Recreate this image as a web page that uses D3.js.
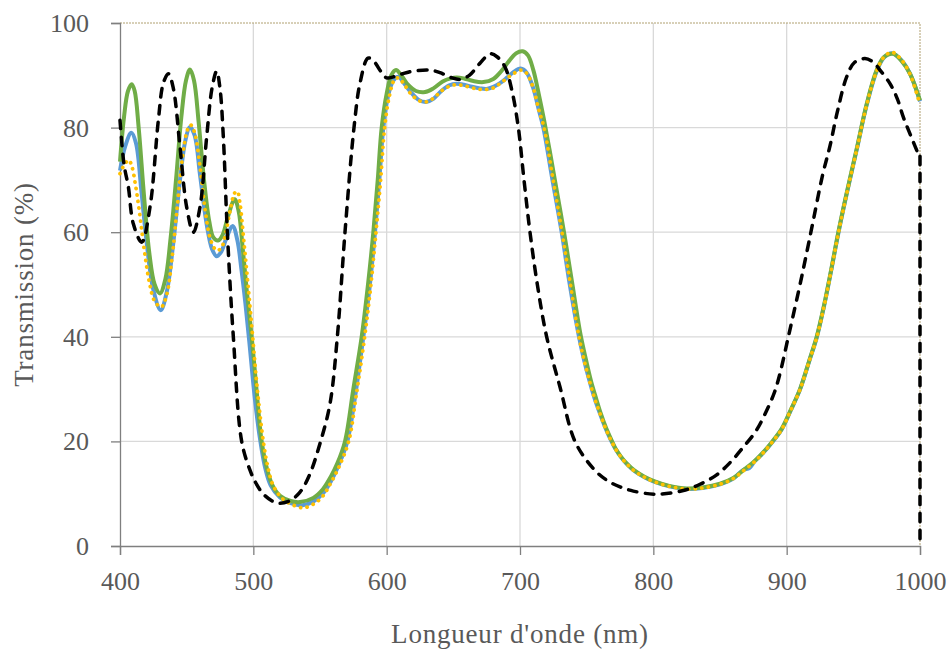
<!DOCTYPE html>
<html>
<head>
<meta charset="utf-8">
<script src="https://cdn.jsdelivr.net/npm/d3@7"></script>
<style>
  html, body { margin: 0; padding: 0; background: #ffffff; }
  svg { display: block; }
  text { font-family: "Liberation Serif", "DejaVu Serif", serif; fill: #595959; }
</style>
</head>
<body>
<svg id="chart" width="949" height="650"></svg>
<script>
// ---- Data ----
const xTicks = [400, 500, 600, 700, 800, 900, 1000];
const yTicks = [0, 20, 40, 60, 80, 100];
const xTitle = "Longueur d'onde (nm)";
const yTitle = "Transmission (%)";

// Series 1 (blue, solid)
const wlBlue = [400, 404, 408.5, 412, 416, 420, 425, 430.5, 435, 440, 445, 449, 452.5, 456, 460, 465, 469, 472.5, 476, 480, 484.5, 488, 491, 494, 497, 501, 505, 509, 513, 520, 528, 537, 545, 552, 558, 564, 570.5, 576, 582.5, 587, 591.25, 594.5, 597.5, 601, 605, 608.75, 613, 618, 624, 629.5, 635, 641, 647, 652.5, 658, 664, 670, 675, 680, 685, 690, 695, 700.5, 705, 710, 714, 717.5, 724, 731.25, 737, 744, 748, 752.5, 756, 760, 764, 767.5, 772, 776, 780, 786, 793, 800.5, 812, 825, 837, 850, 860, 864, 868, 872, 876, 882, 889, 896.25, 903, 910, 917, 922.5, 928, 933.5, 938.75, 945, 953, 960, 967.5, 973, 979, 986, 992.5, 1000];
const tBlue = [71.8, 76.5, 79, 77, 68, 58, 49, 45.1, 48.5, 58, 70, 77.5, 80.1, 78.5, 71, 61.5, 56.8, 55.4, 56.3, 59, 61.2, 58.5, 53, 46.5, 39, 28.5, 20.5, 14.8, 11.6, 9.3, 8.2, 7.8, 8.5, 10, 12.3, 15.5, 20, 28, 40, 49, 60, 70, 80, 86, 89, 89.7, 88.5, 86.8, 85.3, 84.9, 85.5, 87, 88.1, 88.4, 88.2, 87.8, 87.5, 87.4, 87.8, 88.5, 89.5, 90.6, 91.3, 90.5, 87.5, 83.5, 80, 70.5, 60, 50.5, 40.3, 35.6, 31.2, 28.2, 25.3, 22.6, 20.6, 18.4, 16.9, 15.7, 14.3, 13.2, 12.3, 11.4, 10.9, 11.1, 11.8, 12.9, 13.8, 14.6, 14.9, 16.2, 17.7, 19.8, 22.3, 25.9, 29.9, 35.4, 39.8, 45.8, 52.8, 59.8, 67.3, 76.3, 84.3, 90.8, 93.4, 94.2, 92.9, 90.3, 85];

// Series 2 (green, solid)
const wlGreen = [400, 403, 406, 408.8, 411, 414, 418, 422, 426, 430, 434, 438, 442, 446, 449.5, 452.5, 455.5, 459, 463, 467, 470, 473.5, 477, 481, 486, 489, 492, 495, 498.75, 502, 506.25, 510, 514, 520, 528, 535, 545, 552, 558, 563, 568.75, 575, 581.25, 586, 590, 593.3, 596.25, 600, 603.5, 607, 611, 616, 622, 628.75, 635, 642, 648, 652.5, 658, 665, 672.5, 680, 686, 692, 697, 702, 706, 710, 714, 718, 722, 726.5, 733, 739, 745.5, 749.5, 753.5, 757, 760.5, 764.5, 768, 772, 776, 780, 786, 793, 800.5, 812, 825, 837, 850, 860, 868, 875, 882, 889, 896.25, 903, 910, 917, 922.5, 928, 933.5, 938.75, 945, 953, 960, 967.5, 973, 980, 986, 992.5, 1000];
const tGreen = [73.5, 82, 87, 88.3, 87, 80, 67, 56, 50, 48.3, 51, 59, 70, 82, 89, 91.1, 89, 81, 70, 62, 59, 58.4, 59.5, 63, 66.3, 64, 57, 49, 40, 31, 20, 15, 11.8, 9.6, 8.6, 8.4, 9.2, 10.8, 13.2, 15.8, 20, 30, 40, 50, 60, 70, 80, 86.5, 90, 91, 90, 88.2, 87, 86.8, 87.5, 88.8, 89.4, 89.6, 89.4, 88.9, 88.7, 89.3, 90.8, 92.8, 94.2, 94.6, 93.8, 91, 86.5, 81.5, 76, 69.5, 60, 50.5, 40.3, 35.6, 31.3, 28.3, 25.4, 22.6, 20.6, 18.5, 17, 15.8, 14.4, 13.3, 12.4, 11.5, 11, 11.2, 11.9, 13, 14.6, 16, 17.8, 19.9, 22.4, 26, 30, 35.5, 40, 46, 53, 60, 67.5, 76.5, 84.5, 91, 93.5, 94.1, 92.8, 90.3, 85.2];

// Series 3 (orange, dotted)
const wlOrange = [400, 403, 406.5, 409, 411.5, 414, 418, 422, 426, 431, 435, 439, 443, 447, 450.5, 453, 456, 460, 464, 468, 472.5, 476, 479, 482.5, 486, 488, 490, 493, 496, 499.5, 503, 507.5, 511, 515, 522, 530, 537.5, 545, 552, 558, 564, 571.5, 577, 583.5, 588, 592, 595.5, 598.5, 602, 606, 609, 613, 618, 624, 629.5, 635, 641, 647, 652.5, 658, 664, 670, 675, 680, 685, 690, 695, 701, 705, 710, 714, 718, 724.5, 731.5, 737.5, 744, 748, 752.5, 756, 760, 764, 767.5, 772, 776, 780, 786, 793, 800.5, 812, 825, 837, 850, 860, 868, 875, 882, 889, 896.25, 903, 910, 917, 922.5, 928, 933.5, 938.75, 945, 953, 960, 967.5, 973, 979, 986, 992.5, 1000];
const tOrange = [71.2, 72.8, 73.8, 72.5, 69.2, 65, 57, 50.5, 46.8, 45.7, 48, 55, 65, 74.5, 79.5, 80.5, 79, 72.5, 64, 58.5, 56.5, 57, 59.5, 64, 67.5, 67.8, 65.5, 58, 50, 40, 30, 20, 15, 11.5, 9, 7.8, 7.3, 8, 9.5, 12, 15, 20, 28.5, 40, 49.5, 60, 70, 80, 86, 89.2, 89.5, 88.3, 86.5, 85.2, 84.9, 85.6, 87, 87.9, 88.2, 88, 87.6, 87.3, 87.3, 87.6, 88.4, 89.4, 90.3, 91, 90.4, 87.5, 83.5, 80, 70.5, 60, 50.5, 40.3, 35.6, 31.2, 28.2, 25.3, 22.6, 20.6, 18.4, 16.9, 15.7, 14.3, 13.2, 12.3, 11.4, 10.9, 11.1, 11.8, 12.9, 14.5, 15.9, 17.7, 19.8, 22.3, 25.9, 29.9, 35.4, 39.8, 45.8, 52.8, 59.8, 67.3, 76.3, 84.3, 90.8, 93.5, 94.4, 93, 90.2, 84.4];

// Series 4 (black, dashed) — last point is the drop to 0 at 1000 nm
const wlBlack = [400, 403, 406.3, 410, 416.3, 422.5, 428.75, 432.5, 436.3, 440, 445, 450, 455, 460, 465, 469, 472.5, 475, 477.5, 480.5, 485, 491.25, 497.5, 502, 508, 518, 527, 535, 542, 550, 557.5, 563, 568.75, 575.5, 580, 586, 590, 596, 600, 605, 612, 620, 632.5, 640, 648, 655, 662, 670, 677.5, 683, 688.75, 694, 698.75, 703, 707.5, 713, 720, 730, 741.25, 755, 765, 775, 785, 802, 822.5, 835, 847.5, 857, 867.5, 877, 885, 891, 895, 901.25, 908.75, 914, 920, 927, 932.5, 938, 945, 951, 958.75, 965, 970, 977.5, 983, 987.5, 993, 998.75, 1000, 1000];
const tBlack = [81.4, 73, 68.6, 61.6, 58.1, 64.8, 81.4, 88.5, 90.3, 87.5, 76.3, 64.8, 60, 64.8, 78.2, 87.5, 90.8, 87.5, 78.2, 60, 40, 20, 14.5, 12, 9.8, 8.2, 8.6, 10.3, 13.5, 19.6, 27.2, 40, 60, 80, 88.5, 93.3, 92.8, 90.6, 89.5, 89.7, 90.3, 90.8, 91, 90.5, 89.6, 89.2, 90, 92.3, 94.1, 93.5, 91.6, 87, 80, 70, 60, 50, 40, 30.4, 20, 14.8, 12.6, 11.3, 10.5, 9.9, 10.6, 11.8, 13.6, 15.8, 18.9, 22, 25.9, 29.5, 33, 40, 48.5, 54.8, 62.3, 71, 76.5, 83, 89.7, 92.5, 93.2, 92.5, 91, 88.4, 85.5, 82, 78.5, 75, 74.5, 0];

// ---- Layout ----
const svg = d3.select("#chart");
const margin = { left: 120, top: 23, right: 29, bottom: 104 };
const W = 949, H = 650;
const x0 = margin.left, x1 = W - margin.right;   // 120 .. 920
const y0 = H - margin.bottom, y1 = margin.top;  // 546 .. 23

const x = d3.scaleLinear().domain([400, 1000]).range([x0, x1]);
const y = d3.scaleLinear().domain([0, 100]).range([y0, y1]);

// Gridlines
const grid = svg.append("g");
grid.selectAll(".hg").data(yTicks.filter(v => v > 0 && v < 100)).join("line")
  .attr("x1", x0).attr("x2", x1)
  .attr("y1", d => y(d)).attr("y2", d => y(d))
  .attr("stroke", "#d9d9d9").attr("stroke-width", 1.3);
grid.selectAll(".vg").data(xTicks.filter(v => v > 400 && v < 1000)).join("line")
  .attr("y1", y0).attr("y2", y1)
  .attr("x1", d => x(d)).attr("x2", d => x(d))
  .attr("stroke", "#d9d9d9").attr("stroke-width", 1.3);

// Top & right border (dotted olive)
svg.append("path")
  .attr("d", `M${x0},${y1}H${x1}V${y0}`)
  .attr("fill", "none").attr("stroke", "#b0a070").attr("stroke-width", 1)
  .attr("stroke-dasharray", "2 1");

// Axes
const xAxis = d3.axisBottom(x).tickValues(xTicks).tickSize(9).tickPadding(17).tickFormat(d3.format("d"));
const yAxis = d3.axisLeft(y).tickValues(yTicks).tickSize(9).tickPadding(22).tickFormat(d3.format("d"));

const gx = svg.append("g").attr("transform", `translate(0,${y0})`).call(xAxis);
const gy = svg.append("g").attr("transform", `translate(${x0},0)`).call(yAxis);
[gx, gy].forEach(g => {
  g.select(".domain").attr("stroke", "#7f7f7f").attr("stroke-width", 1.3);
  g.selectAll(".tick line").attr("stroke", "#7f7f7f").attr("stroke-width", 1.3);
  g.selectAll(".tick text")
    .style("font-family", '"Liberation Serif", "DejaVu Serif", serif')
    .style("font-size", "26px").attr("fill", "#595959");
});
gy.selectAll(".tick text").attr("dy", "0.33em");

// Axis titles
svg.append("text")
  .attr("x", (x0 + x1) / 2).attr("y", 643)
  .attr("text-anchor", "middle").style("font-size", "27px").style("letter-spacing", "0.8px")
  .text(xTitle);
svg.append("text")
  .attr("transform", `translate(33,${(y0 + y1) / 2}) rotate(-90)`)
  .attr("text-anchor", "middle").style("font-size", "27px").style("letter-spacing", "0.8px")
  .text(yTitle);

// Lines
const line = d3.line().x(d => x(d[0])).y(d => y(d[1])).curve(d3.curveCatmullRom.alpha(0.5));
const zip = (a, b) => a.map((v, i) => [v, b[i]]);

const plot = svg.append("g");
plot.append("path").datum(zip(wlBlue, tBlue)).attr("d", line)
  .attr("fill", "none").attr("stroke", "#5b9bd5").attr("stroke-width", 4)
  .attr("stroke-linejoin", "round");
plot.append("path").datum(zip(wlGreen, tGreen)).attr("d", line)
  .attr("fill", "none").attr("stroke", "#70ad47").attr("stroke-width", 4)
  .attr("stroke-linejoin", "round");
plot.append("path").datum(zip(wlOrange, tOrange)).attr("d", line)
  .attr("fill", "none").attr("stroke", "#ffc000").attr("stroke-width", 3.8)
  .attr("stroke-linecap", "round").attr("stroke-dasharray", "0.1 6.5");

const blackPts = zip(wlBlack, tBlack);
const blackMain = blackPts.slice(0, blackPts.length - 1);
const blackDrop = blackPts.slice(blackPts.length - 2);
plot.append("path").datum(blackMain).attr("d", line)
  .attr("fill", "none").attr("stroke", "#000000").attr("stroke-width", 3.5)
  .attr("stroke-linecap", "round").attr("stroke-dasharray", "8.5 8.5");
plot.append("path").datum(blackDrop)
  .attr("d", d3.line().x(d => x(d[0])).y(d => y(d[1])))
  .attr("fill", "none").attr("stroke", "#000000").attr("stroke-width", 3.5)
  .attr("stroke-linecap", "round").attr("stroke-dasharray", "8.5 8.5");
</script>
</body>
</html>
